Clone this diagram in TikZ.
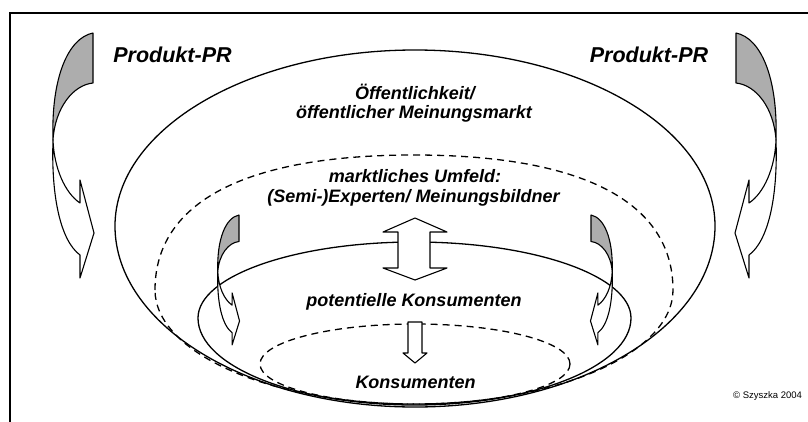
\documentclass[tikz,border=0pt]{standalone}
\usepackage{fontspec}
\setmainfont{Liberation Sans}
\tikzset{
  frameline/.style={line width=1.4pt},
  solidring/.style={line width=1.3pt},
  dashring/.style={line width=1.3pt, dash pattern=on 7pt off 5pt},
  backpart/.style={fill=black!32, draw=black, line width=1.1pt, line join=round},
  frontpart/.style={fill=white, draw=black, line width=1.1pt, line join=round},
  txt/.style={font=\fontsize{18}{20}\selectfont\bfseries\itshape, inner sep=0pt, anchor=base},
  prtxt/.style={font=\fontsize{21.5}{24}\selectfont\bfseries\itshape, inner sep=0pt, anchor=base},
  copytxt/.style={font=\fontsize{9.5}{11}\selectfont, inner sep=0pt, anchor=base},
}
\newcommand{\twistarrow}[1]{%
  \begin{scope}[#1]
    \draw[backpart] (0,0) -- (0,50) .. controls (-20,52) and (-38,75) .. (-40,107)
      .. controls (-42,45) and (-25,5) .. (0,0) -- cycle;
    \draw[frontpart] (-40,107) .. controls (-39,135) and (-28,160) .. (-13,170)
      -- (-13,147) -- (1,200) -- (-13,245) -- (-13,222)
      .. controls (-32,208) and (-42,165) .. (-40,107) -- cycle;
  \end{scope}}
\begin{document}
\begin{tikzpicture}[x=1pt,y=-1pt]
\useasboundingbox (0,0) rectangle (808,421);
% frame
\draw[frameline] (10,430) -- (10,13) -- (815,13);
% outer ring: Oeffentlichkeit
\draw[solidring] (115,226) .. controls (115,128.8) and (249.3,50) .. (415,50)
  .. controls (580.7,50) and (715,128.8) .. (715,226)
  .. controls (715,326) and (580.7,407) .. (415,407)
  .. controls (249.3,407) and (115,326) .. (115,226) -- cycle;
% middle dashed ring: marktliches Umfeld
\draw[dashring] (155,290) .. controls (155,202) and (245.6,155) .. (414,155)
  .. controls (582.4,155) and (673,202) .. (673,290)
  .. controls (673,353) and (557,404) .. (414,404)
  .. controls (271,404) and (155,353) .. (155,290) -- cycle;
% potential consumers
\draw[solidring] (198,318) .. controls (198,276) and (295,242) .. (414.5,242)
  .. controls (534,242) and (631,276) .. (631,318)
  .. controls (631,366) and (534,405) .. (414.5,405)
  .. controls (295,405) and (198,366) .. (198,318) -- cycle;
% consumers
\draw[dashring] (415,364) ellipse [x radius=155, y radius=40];
% twisted arrows
\twistarrow{shift={(93,33)}}
\twistarrow{shift={(736,33)}, xscale=-1}
\twistarrow{shift={(239,215)}, scale=0.53}
\twistarrow{shift={(591,215)}, xscale=-0.53, yscale=0.53}
% double arrow
\draw[frontpart] (415,218) -- (447,232) -- (430,232) -- (430,268) -- (447,268)
  -- (415,280) -- (383,268) -- (398,268) -- (398,232) -- (383,232) -- cycle;
% small down arrow
\draw[frontpart] (408,322) -- (422,322) -- (422,353) -- (427,353) -- (415,363)
  -- (403,353) -- (408,353) -- cycle;
% texts
\node[prtxt] (prleft) at (172.5,62) {Produkt-PR};
\node[prtxt] (prright) at (649,62) {Produkt-PR};
\node[txt] (oeff1) at (415,99) {Öffentlichkeit/};
\node[txt] (oeff2) at (414,118) {öffentlicher Meinungsmarkt};
\node[txt] (markt1) at (415,182) {marktliches Umfeld:};
\node[txt] (markt2) at (413.5,202) {(Semi-)Experten/ Meinungsbildner};
\node[txt] (potkons) at (414,306) {potentielle Konsumenten};
\node[txt] (kons) at (415.5,388) {Konsumenten};
\node[copytxt] (copy) at (767.5,398) {© Szyszka 2004};
\end{tikzpicture}
\end{document}
